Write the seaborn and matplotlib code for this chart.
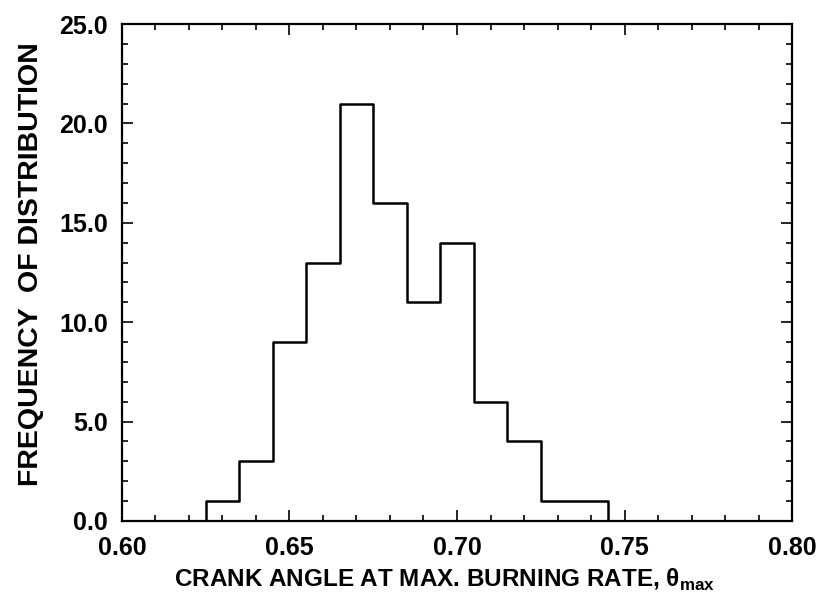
import matplotlib
matplotlib.use("Agg")
import matplotlib.pyplot as plt
import seaborn as sns
import numpy as np
from matplotlib.ticker import MultipleLocator, FormatStrFormatter

bin_edges = [0.615, 0.625, 0.635, 0.645, 0.655, 0.665, 0.675, 0.685, 0.695, 0.705, 0.715, 0.725, 0.735, 0.745, 0.755]
counts = [0, 1, 3, 9, 13, 21, 16, 11, 14, 6, 4, 1, 1, 0]
bin_centers = [0.62, 0.63, 0.64, 0.65, 0.66, 0.67, 0.68, 0.69, 0.70, 0.71, 0.72, 0.73, 0.74, 0.75]

sns.set_theme(style="white")
plt.rcParams['font.family'] = ['Liberation Sans', 'DejaVu Sans']
plt.rcParams['font.weight'] = 'bold'
plt.rcParams['mathtext.fontset'] = 'custom'
plt.rcParams['mathtext.bf'] = 'Liberation Sans:bold'

fig = plt.figure(figsize=(8.16, 6.02), dpi=100)
ax = fig.add_axes([0.1495, 0.1346, 0.8211, 0.8254])

sns.histplot(x=bin_centers, weights=counts, bins=bin_edges, element="step",
             fill=False, color="black", linewidth=1.8, ax=ax)

ax.set_xlim(0.60, 0.80)
ax.set_ylim(0, 25)
ax.xaxis.set_major_locator(MultipleLocator(0.05))
ax.xaxis.set_minor_locator(MultipleLocator(0.01))
ax.yaxis.set_major_locator(MultipleLocator(5))
ax.yaxis.set_minor_locator(MultipleLocator(1))
ax.xaxis.set_major_formatter(FormatStrFormatter('%.2f'))
ax.yaxis.set_major_formatter(FormatStrFormatter('%.1f'))

for s in ax.spines.values():
    s.set_color('black')
    s.set_linewidth(1.6)

ax.tick_params(which='both', direction='in', top=True, right=True, bottom=True, left=True,
               color='black', width=1.2)
ax.tick_params(which='major', length=8, labelsize=18)
ax.tick_params(axis='x', which='major', pad=11)
ax.tick_params(axis='y', which='major', pad=10)
ax.tick_params(which='minor', length=4)
for lbl in ax.get_xticklabels() + ax.get_yticklabels():
    lbl.set_fontweight('bold')
    lbl.set_color('black')

ax.set_xlabel(r'CRANK ANGLE AT MAX. BURNING RATE, $\mathbf{\theta}_{\mathbf{max}}$',
              fontsize=17.5, fontweight='bold', color='black',
              family=['Liberation Sans Narrow', 'Liberation Sans', 'DejaVu Sans'])
ax.set_ylabel('FREQUENCY  OF DISTRIBUTION', fontsize=20.5, fontweight='bold', color='black')
ax.xaxis.set_label_coords(0.482, -0.093)
ax.yaxis.set_label_coords(-0.116, 0.517)

fig.savefig("out.png", dpi=100)
